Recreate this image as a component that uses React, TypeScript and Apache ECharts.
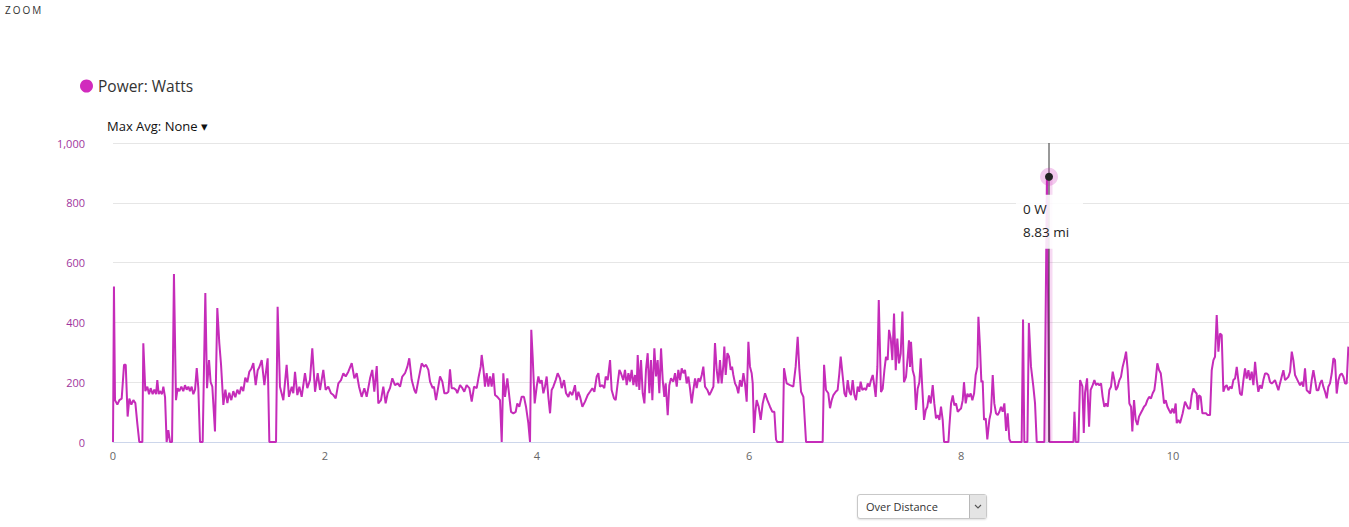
import React, { useEffect, useRef } from "react";
import * as echarts from "echarts";

const seriesName = "Power: Watts";
const zoomLabel = "ZOOM";
const maxAvgLabel = "Max Avg: None \u25BE";
const modeLabel = "Over Distance";

// [distance (mi), power (W)]
const powerSamples: [number, number][] = [
  [0, 0], [0.009, 520], [0.019, 140], [0.041, 125], [0.06, 140], [0.082, 145], [0.104, 258], [0.12, 258], [0.138, 85], [0.154, 145],
  [0.173, 125], [0.192, 140], [0.211, 130], [0.23, 60], [0.248, 0], [0.277, 0], [0.286, 330], [0.305, 170], [0.324, 185], [0.34, 160],
  [0.355, 180], [0.374, 160], [0.39, 175], [0.406, 160], [0.418, 207], [0.431, 160], [0.443, 170], [0.462, 160], [0.475, 185], [0.491, 150],
  [0.506, 0], [0.522, 40], [0.538, 0], [0.557, 0], [0.575, 562], [0.594, 140], [0.61, 180], [0.626, 170], [0.645, 185], [0.663, 170],
  [0.679, 190], [0.695, 175], [0.711, 185], [0.726, 170], [0.742, 185], [0.758, 160], [0.774, 175], [0.79, 247], [0.805, 180], [0.821, 0],
  [0.846, 0], [0.871, 498], [0.887, 180], [0.906, 274], [0.921, 200], [0.937, 185], [0.962, 35], [0.984, 448], [1.003, 330], [1.019, 260],
  [1.041, 124], [1.06, 175], [1.079, 130], [1.097, 165], [1.116, 140], [1.135, 170], [1.154, 150], [1.173, 175], [1.192, 160], [1.21, 185],
  [1.229, 170], [1.248, 215], [1.267, 200], [1.286, 235], [1.305, 245], [1.324, 264], [1.346, 190], [1.365, 240], [1.38, 250],
  [1.403, 274], [1.428, 190], [1.459, 280], [1.475, 0], [1.538, 0], [1.553, 452], [1.575, 185], [1.607, 140], [1.638, 258], [1.66, 151],
  [1.686, 185], [1.701, 163], [1.717, 235], [1.739, 157], [1.758, 185], [1.78, 151], [1.811, 230], [1.833, 180], [1.858, 207], [1.88, 313],
  [1.906, 168], [1.931, 230], [1.953, 174], [1.984, 241], [2.006, 174], [2.031, 185], [2.057, 163], [2.079, 157], [2.101, 146], [2.126, 196],
  [2.151, 207], [2.173, 230], [2.195, 219], [2.22, 235], [2.252, 264], [2.277, 213], [2.299, 230], [2.321, 185], [2.346, 151], [2.371, 180],
  [2.393, 151], [2.425, 213], [2.446, 241], [2.465, 168], [2.488, 254], [2.503, 129], [2.528, 140], [2.55, 185], [2.572, 129], [2.591, 163],
  [2.613, 180], [2.635, 213], [2.66, 190], [2.686, 196], [2.708, 185], [2.729, 219], [2.755, 230], [2.777, 252], [2.795, 280], [2.818, 207],
  [2.843, 174],
  [2.858, 163], [2.881, 207], [2.912, 263], [2.934, 252], [2.953, 258], [2.975, 241], [2.991, 202], [3.016, 180], [3.028, 185], [3.047, 140],
  [3.069, 185], [3.085, 219], [3.107, 202], [3.126, 163], [3.148, 163], [3.164, 168], [3.179, 243], [3.195, 180], [3.217, 180], [3.236, 174],
  [3.248, 163], [3.274, 190], [3.296, 180], [3.314, 168], [3.336, 190], [3.362, 180], [3.384, 135], [3.406, 185], [3.431, 180], [3.447, 213],
  [3.469, 252], [3.478, 291], [3.494, 246], [3.509, 185], [3.525, 230], [3.541, 185], [3.557, 219], [3.572, 185], [3.588, 230], [3.604, 157],
  [3.626, 151], [3.651, 140], [3.667, 0], [3.682, 230], [3.698, 151], [3.72, 213], [3.739, 151], [3.755, 101], [3.777, 96], [3.799, 101],
  [3.814, 129], [3.833, 118], [3.855, 151], [3.877, 151], [3.896, 118], [3.918, 63], [3.934, 0], [3.946, 375], [3.959, 285], [3.978, 129],
  [3.997, 185], [4.013, 219], [4.028, 196], [4.044, 207], [4.06, 163], [4.075, 185], [4.091, 219], [4.107, 151], [4.123, 96], [4.138, 174],
  [4.154, 185], [4.176, 207], [4.195, 230], [4.217, 213], [4.233, 180], [4.255, 207], [4.274, 163], [4.296, 151],
  [4.311, 168], [4.333, 157], [4.358, 190], [4.374, 140], [4.39, 168], [4.406, 151], [4.428, 118], [4.453, 135], [4.478, 157], [4.5, 168],
  [4.522, 180], [4.541, 168], [4.563, 219], [4.579, 230], [4.594, 185], [4.616, 190], [4.635, 180], [4.648, 219], [4.667, 207], [4.689, 274],
  [4.704, 174], [4.726, 146], [4.742, 140], [4.761, 196], [4.777, 241], [4.792, 230], [4.814, 207], [4.83, 241], [4.846, 190], [4.862, 230],
  [4.877, 202], [4.893, 241], [4.909, 190], [4.925, 224], [4.94, 185], [4.95, 291], [4.965, 174], [4.981, 274], [4.997, 163], [5.013, 129],
  [5.028, 241], [5.044, 297], [5.06, 163], [5.075, 274], [5.088, 140], [5.107, 313], [5.123, 219], [5.138, 274], [5.154, 163], [5.17, 313],
  [5.186, 207], [5.201, 151], [5.214, 196], [5.233, 90], [5.248, 190], [5.264, 213], [5.286, 202], [5.302, 230], [5.318, 185], [5.333, 241],
  [5.349, 207], [5.365, 246], [5.381, 230], [5.396, 241], [5.412, 196], [5.428, 219], [5.443, 180], [5.459, 129], [5.475, 174], [5.491, 213],
  [5.506, 180], [5.522, 213], [5.538, 202], [5.554, 224], [5.569, 252], [5.585, 185], [5.607, 174], [5.626, 157], [5.642, 168], [5.664, 185],
  [5.679, 331], [5.695, 241], [5.711, 196], [5.726, 274], [5.742, 196], [5.758, 258],
  [5.767, 319], [5.78, 224], [5.796, 297], [5.811, 286], [5.827, 241], [5.84, 252], [5.852, 224], [5.868, 196], [5.884, 185], [5.899, 163],
  [5.915, 207], [5.931, 185], [5.947, 230], [5.962, 196], [5.978, 135], [5.994, 335], [6.009, 252], [6.025, 230], [6.035, 196], [6.047, 30],
  [6.06, 101], [6.072, 140], [6.091, 118], [6.11, 74], [6.129, 129], [6.151, 163], [6.173, 140], [6.198, 118], [6.22, 101], [6.239, 101],
  [6.255, 8], [6.267, 0], [6.318, 0], [6.33, 247], [6.355, 196], [6.387, 190], [6.418, 185], [6.44, 252], [6.459, 352], [6.475, 241],
  [6.491, 168], [6.513, 151], [6.538, 0], [6.695, 0], [6.708, 258], [6.726, 174], [6.748, 163], [6.764, 113], [6.78, 140], [6.796, 157],
  [6.818, 168], [6.836, 174], [6.852, 230], [6.865, 286], [6.884, 219], [6.9, 163], [6.915, 151], [6.931, 207], [6.947, 168], [6.962, 157],
  [6.978, 207], [6.994, 157], [7.009, 140], [7.025, 185], [7.041, 168], [7.053, 202], [7.069, 174], [7.088, 180], [7.104, 174], [7.12, 196],
  [7.135, 185], [7.151, 207], [7.167, 224], [7.179, 196], [7.195, 151], [7.211, 252], [7.224, 475],
  [7.245, 167], [7.261, 178], [7.277, 240], [7.292, 285], [7.308, 274], [7.321, 375], [7.337, 346], [7.352, 274], [7.368, 430], [7.384, 240],
  [7.399, 346], [7.415, 263], [7.431, 296], [7.447, 436], [7.462, 200], [7.481, 218], [7.497, 285], [7.509, 340], [7.519, 251], [7.528, 335],
  [7.544, 240], [7.56, 218], [7.575, 107], [7.591, 178], [7.607, 200], [7.62, 280], [7.635, 178], [7.651, 74], [7.667, 107], [7.682, 118],
  [7.698, 156], [7.714, 129], [7.733, 190], [7.748, 129], [7.764, 79], [7.78, 90], [7.796, 74], [7.811, 118], [7.827, 74], [7.84, 0],
  [7.881, 0], [7.89, 52], [7.906, 129], [7.922, 156], [7.937, 123], [7.953, 129], [7.969, 101], [7.984, 107], [8.0, 112], [8.016, 140],
  [8.028, 200], [8.044, 129], [8.06, 162], [8.075, 151], [8.091, 162], [8.107, 140], [8.123, 162], [8.138, 224], [8.154, 251], [8.164, 419],
  [8.179, 318], [8.192, 200], [8.204, 205], [8.217, 74], [8.233, 79], [8.248, 9], [8.267, 74], [8.283, 101], [8.299, 224], [8.314, 129],
  [8.33, 96], [8.346, 90], [8.362, 101], [8.377, 118], [8.393, 101], [8.409, 129], [8.425, 37], [8.44, 96], [8.456, 9], [8.469, 0],
  [8.572, 0], [8.585, 410], [8.597, 0], [8.626, 0], [8.64, 398],
  [8.66, 252], [8.682, 186], [8.698, 130], [8.714, 0], [8.786, 0], [8.811, 887], [8.833, 0], [9.06, 0], [9.07, 101], [9.082, 0],
  [9.107, 0], [9.123, 207], [9.145, 186], [9.158, 30], [9.17, 165], [9.189, 213], [9.208, 51], [9.223, 174], [9.242, 190], [9.258, 207],
  [9.274, 190], [9.289, 196], [9.305, 190], [9.321, 196], [9.336, 151], [9.352, 118], [9.368, 129], [9.384, 118], [9.399, 174], [9.415, 185],
  [9.431, 235], [9.447, 207], [9.462, 174], [9.478, 185], [9.494, 207], [9.509, 218], [9.525, 252], [9.541, 274], [9.557, 302], [9.572, 241],
  [9.588, 129], [9.604, 118], [9.616, 35], [9.632, 140], [9.648, 74], [9.664, 57], [9.679, 85], [9.695, 96], [9.711, 107], [9.726, 118],
  [9.742, 124], [9.758, 140], [9.774, 151], [9.792, 146], [9.808, 163], [9.824, 174], [9.836, 207], [9.852, 263], [9.868, 241], [9.884, 230],
  [9.899, 185], [9.915, 129], [9.931, 140], [9.947, 118], [9.962, 107], [9.978, 96], [9.994, 112], [10.009, 96], [10.025, 129], [10.035, 63],
  [10.05, 74], [10.066, 63],
  [10.091, 96], [10.113, 135], [10.129, 123], [10.144, 112], [10.16, 112], [10.176, 156], [10.192, 179], [10.208, 168], [10.223, 162], [10.233, 107],
  [10.245, 156], [10.261, 151], [10.277, 96], [10.292, 96], [10.311, 96], [10.327, 90], [10.349, 90], [10.365, 240], [10.381, 274], [10.396, 285],
  [10.412, 425], [10.428, 302], [10.443, 363], [10.459, 358], [10.475, 168], [10.491, 185], [10.506, 190], [10.522, 173], [10.538, 185], [10.554, 179],
  [10.569, 207], [10.585, 212], [10.601, 251], [10.616, 207], [10.632, 162], [10.648, 156], [10.664, 207], [10.679, 246], [10.695, 212], [10.711, 240],
  [10.726, 207], [10.742, 235], [10.758, 190], [10.774, 268], [10.79, 207], [10.805, 168], [10.821, 190], [10.837, 179], [10.852, 207], [10.868, 229],
  [10.884, 229], [10.899, 224], [10.915, 201], [10.931, 196], [10.947, 201], [10.962, 207], [10.978, 190], [10.994, 173], [11.009, 196], [11.025, 218],
  [11.041, 240], [11.057, 207], [11.072, 212], [11.088, 218], [11.104, 235], [11.12, 302], [11.135, 274], [11.151, 224], [11.167, 212], [11.182, 201],
  [11.198, 190], [11.214, 201], [11.229, 185], [11.245, 246], [11.261, 173], [11.277, 168], [11.292, 162], [11.308, 207], [11.324, 240], [11.34, 207],
  [11.355, 173], [11.371, 173], [11.387, 196], [11.403, 207], [11.418, 185], [11.434, 168], [11.45, 146], [11.465, 185], [11.481, 196], [11.497, 229],
  [11.513, 280], [11.528, 274], [11.544, 162], [11.56, 207], [11.575, 224], [11.591, 229], [11.607, 218], [11.623, 196], [11.638, 196], [11.654, 319],
];

const xMin = 0;
const xMax = 11.66;
const xInterval = 2;
const yMin = 0;
const yMax = 1000;
const yInterval = 200;

// hovered point shown by the tooltip
const hoverDistanceMi = 8.83;
const hoverWatts = 0;
const hoverMarkerWatts = 887;

const FONT = "'Open Sans', 'Noto Sans', sans-serif";
const LINE_COLOR = "#c52cb9";

export default function App() {
  const ref = useRef<HTMLDivElement>(null);

  useEffect(() => {
    document.body.style.margin = "0";
    const chart = echarts.init(ref.current as HTMLDivElement, null, { renderer: "svg" });
    chart.setOption({
      animation: false,
      textStyle: { fontFamily: FONT },
      grid: { left: 113, right: 0, top: 143, bottom: 85, containLabel: false },
      legend: {
        data: [seriesName],
        left: 80,
        top: 78,
        padding: 0,
        icon: "circle",
        itemWidth: 13,
        itemHeight: 13,
        itemGap: 10,
        itemStyle: { color: "#d12bbd" },
        textStyle: { fontSize: 15.5, color: "#333", fontFamily: FONT },
        selectedMode: false,
      },
      xAxis: {
        type: "value",
        min: xMin,
        max: xMax,
        interval: xInterval,
        axisLine: { show: true, lineStyle: { color: "#ccd6eb", width: 1 } },
        axisTick: { show: false },
        splitLine: { show: false },
        axisLabel: { color: "#666", fontSize: 11, margin: 8, showMaxLabel: false, fontFamily: FONT },
      },
      yAxis: {
        type: "value",
        min: yMin,
        max: yMax,
        interval: yInterval,
        axisLine: { show: false },
        axisTick: { show: false },
        splitLine: { show: true, lineStyle: { color: "#e6e6e6", width: 1 } },
        axisLabel: { color: "#a0359d", fontSize: 11, margin: 28, fontFamily: FONT },
      },
      series: [
        {
          name: seriesName,
          type: "line",
          data: powerSamples,
          showSymbol: false,
          symbol: "none",
          color: LINE_COLOR,
          lineStyle: { color: LINE_COLOR, width: 2 },
          emphasis: { disabled: true },
          z: 3,
        },
      ],
    });

    const toPx = (d: number, w: number) =>
      chart.convertToPixel({ gridIndex: 0 }, [d, w]) as number[];
    const [px, pyTop] = toPx(hoverDistanceMi, yMax);
    const [, pyBottom] = toPx(hoverDistanceMi, yMin);
    const [, pyMark] = toPx(hoverDistanceMi, hoverMarkerWatts);

    chart.setOption({
      graphic: [
        {
          type: "text",
          x: 107,
          y: 126,
          z: 100,
          style: {
            text: maxAvgLabel,
            fill: "#111",
            font: `13px ${FONT}`,
            verticalAlign: "middle",
          },
        },
        {
          type: "rect",
          z: 1,
          shape: { x: px - 3.5, y: pyMark, width: 7, height: pyBottom - pyMark },
          style: { fill: "rgba(209,43,189,0.18)" },
        },
        {
          type: "line",
          z: 50,
          shape: { x1: px, y1: pyTop, x2: px, y2: pyBottom },
          style: { stroke: "#333", lineWidth: 1 },
        },
        {
          type: "rect",
          z: 100,
          shape: { x: px - 33, y: pyMark + 18, width: 67, height: 54 },
          style: { fill: "rgba(255,255,255,0.88)" },
        },
        {
          type: "text",
          z: 101,
          x: px - 26,
          y: pyMark + 32,
          style: {
            text: `${hoverWatts} W`,
            fill: "#222",
            font: `13.5px ${FONT}`,
            verticalAlign: "middle",
          },
        },
        {
          type: "text",
          z: 101,
          x: px - 26,
          y: pyMark + 55,
          style: {
            text: `${hoverDistanceMi.toFixed(2)} mi`,
            fill: "#222",
            font: `13.5px ${FONT}`,
            verticalAlign: "middle",
          },
        },
        {
          type: "circle",
          z: 102,
          shape: { cx: px, cy: pyMark, r: 9 },
          style: { fill: "rgba(209,43,189,0.25)" },
        },
        {
          type: "circle",
          z: 103,
          shape: { cx: px, cy: pyMark, r: 4 },
          style: { fill: "#222" },
        },
      ],
    });

    return () => chart.dispose();
  }, []);

  return (
    <div style={{ position: "relative", width: 1349, height: 527, overflow: "hidden", fontFamily: FONT }}>
      <div ref={ref} style={{ position: "absolute", left: 0, top: 0, width: 1349, height: 527 }} />
      <div
        style={{
          position: "absolute",
          left: 5,
          top: 3,
          fontSize: 10,
          letterSpacing: 2,
          color: "#333",
          lineHeight: "14px",
        }}
      >
        {zoomLabel}
      </div>
      <div
        style={{
          position: "absolute",
          left: 857,
          top: 494,
          width: 130,
          height: 25,
          border: "1px solid #c8c8c8",
          borderRadius: 3,
          boxShadow: "0 1px 2px rgba(0,0,0,0.12)",
          background: "#fff",
          boxSizing: "border-box",
        }}
      >
        <div
          style={{
            position: "absolute",
            left: 8,
            top: 0,
            lineHeight: "23px",
            fontSize: 11,
            color: "#333",
          }}
        >
          {modeLabel}
        </div>
        <div
          style={{
            position: "absolute",
            right: 0,
            top: 0,
            width: 16,
            height: 23,
            background: "#e4e4e4",
            borderLeft: "1px solid #b8b8b8",
          }}
        >
          <svg width="16" height="23" style={{ display: "block" }}>
            <polyline points="5,10 8,13 11,10" fill="none" stroke="#555" strokeWidth="1.1" />
          </svg>
        </div>
      </div>
    </div>
  );
}
